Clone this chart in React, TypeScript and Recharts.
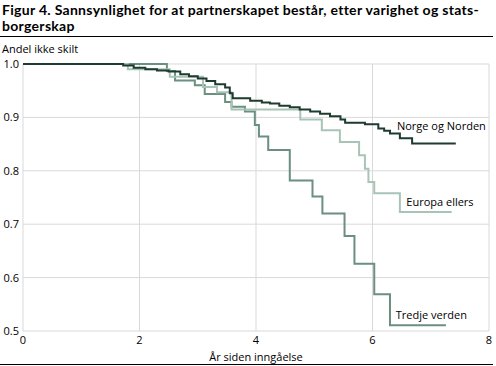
import React from "react";
import {
  LineChart,
  Line,
  XAxis,
  YAxis,
  CartesianGrid,
  ReferenceDot,
  Label,
} from "recharts";

// Kaplan-Meier style step curves: years since registration -> share not divorced
const norgeYears = [0, 1.72, 1.9, 2.1, 2.3, 2.5, 2.7, 2.85, 3.0, 3.15, 3.3, 3.47, 3.55, 3.6, 3.9, 4.1, 4.24, 4.4, 4.58, 4.75, 4.93, 5.1, 5.27, 5.45, 5.53, 5.87, 6.1, 6.2, 6.3, 6.47, 6.68, 7.43];
const norgeShare = [1.0, 0.997, 0.993, 0.99, 0.988, 0.986, 0.981, 0.977, 0.973, 0.968, 0.962, 0.956, 0.945, 0.936, 0.931, 0.928, 0.926, 0.922, 0.919, 0.915, 0.911, 0.907, 0.902, 0.896, 0.89, 0.887, 0.879, 0.875, 0.87, 0.861, 0.851, 0.851];

const europaYears = [0, 1.8, 2.52, 3.09, 3.33, 3.58, 4.76, 5.13, 5.44, 5.77, 5.87, 5.93, 6.03, 6.47, 7.36];
const europaShare = [1.0, 0.99, 0.976, 0.957, 0.947, 0.915, 0.896, 0.876, 0.854, 0.829, 0.804, 0.779, 0.758, 0.723, 0.723];

const tredjeYears = [0, 2.47, 2.61, 2.95, 3.12, 3.47, 3.58, 3.81, 3.98, 4.05, 4.21, 4.58, 4.97, 5.14, 5.52, 5.69, 6.03, 6.3, 7.26];
const tredjeShare = [1.0, 0.987, 0.969, 0.96, 0.944, 0.929, 0.92, 0.911, 0.886, 0.864, 0.839, 0.782, 0.752, 0.72, 0.678, 0.626, 0.569, 0.511, 0.511];

const xTicks = [0, 2, 4, 6, 8];
const yTicks = [0.5, 0.6, 0.7, 0.8, 0.9, 1.0];

const seriesNames = ["Norge og Norden", "Europa ellers", "Tredje verden"];

const toRows = (years: number[], share: number[]) =>
  years.map((t, i) => ({ t, v: share[i] }));

const norge = toRows(norgeYears, norgeShare);
const europa = toRows(europaYears, europaShare);
const tredje = toRows(tredjeYears, tredjeShare);

const titleFont = "Lato, sans-serif";
const font = "'Open Sans', sans-serif";
const small = { fill: "#000", fontSize: 11, fontFamily: font };

export default function App() {
  return (
    <div
      style={{
        position: "absolute",
        left: 0,
        top: 0,
        width: 496,
        height: 366,
        background: "#fff",
        fontFamily: font,
        color: "#000",
      }}
    >
      <div
        style={{
          position: "absolute",
          left: 2,
          top: 2,
          fontFamily: titleFont,
          fontWeight: 700,
          fontSize: 14,
          letterSpacing: 0.3,
          lineHeight: "16px",
          whiteSpace: "nowrap",
        }}
      >
        Figur 4. Sannsynlighet for at partnerskapet består, etter varighet og stats-
        <br />
        borgerskap
      </div>
      <div
        style={{
          position: "absolute",
          left: 0,
          top: 36,
          width: 493,
          height: 1,
          background: "#000",
        }}
      />
      <div
        style={{
          position: "absolute",
          left: 2,
          top: 41,
          fontSize: 11,
          whiteSpace: "nowrap",
        }}
      >
        Andel ikke skilt
      </div>
      <div
        style={{
          position: "absolute",
          left: 0,
          top: 364,
          width: 493,
          height: 1,
          background: "#000",
        }}
      />
      <div style={{ position: "absolute", left: 0, top: 0 }}>
        <LineChart
          width={496}
          height={366}
          margin={{ top: 64, right: 7, bottom: 5, left: 0 }}
        >
          <CartesianGrid
            stroke="#d9d9d9"
            strokeWidth={1}
            horizontalValues={yTicks}
            verticalValues={xTicks}
          />
          <XAxis
            type="number"
            dataKey="t"
            domain={[0, 8]}
            ticks={xTicks}
            axisLine={false}
            tickLine={false}
            tickSize={0}
            tickMargin={5}
            height={30}
            tick={small}
          >
            <Label
              value="År siden inngåelse"
              position="insideBottom"
              offset={0}
              style={small}
            />
          </XAxis>
          <YAxis
            type="number"
            domain={[0.5, 1]}
            ticks={yTicks}
            width={23}
            axisLine={false}
            tickLine={false}
            tickSize={0}
            tickMargin={4}
            tickFormatter={(v: number) => v.toFixed(1)}
            tick={small}
          />
          <Line
            data={tredje}
            dataKey="v"
            type="stepAfter"
            stroke="#6b8f80"
            strokeWidth={2}
            dot={false}
            isAnimationActive={false}
          />
          <Line
            data={europa}
            dataKey="v"
            type="stepAfter"
            stroke="#a8c4b6"
            strokeWidth={2}
            dot={false}
            isAnimationActive={false}
          />
          <Line
            data={norge}
            dataKey="v"
            type="stepAfter"
            stroke="#1d3b2e"
            strokeWidth={2}
            dot={false}
            isAnimationActive={false}
          />
          <ReferenceDot
            x={6.42}
            y={0.884}
            r={0}
            fill="none"
            stroke="none"
            label={{ value: seriesNames[0], position: "right", offset: 0, ...small }}
          />
          <ReferenceDot
            x={6.58}
            y={0.741}
            r={0}
            fill="none"
            stroke="none"
            label={{ value: seriesNames[1], position: "right", offset: 0, ...small }}
          />
          <ReferenceDot
            x={6.4}
            y={0.529}
            r={0}
            fill="none"
            stroke="none"
            label={{ value: seriesNames[2], position: "right", offset: 0, ...small }}
          />
        </LineChart>
      </div>
    </div>
  );
}
